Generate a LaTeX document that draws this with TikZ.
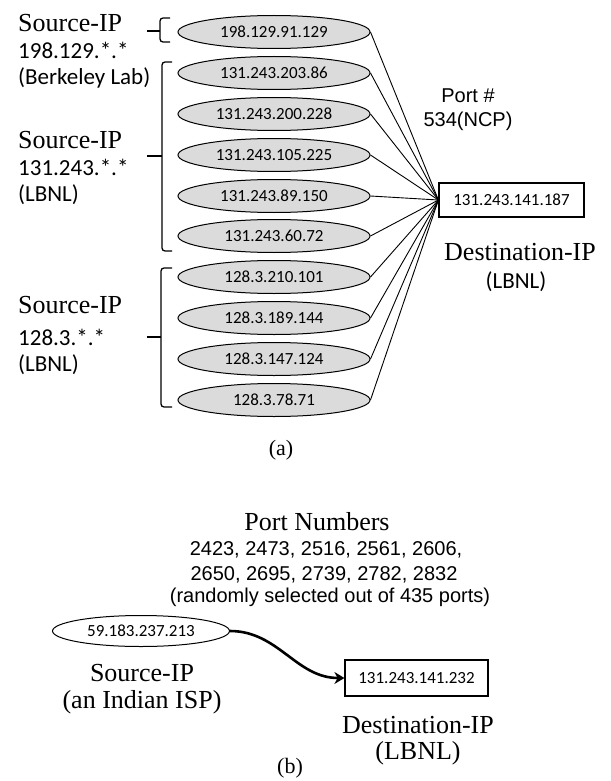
\documentclass[tikz,border=0pt]{standalone}
\usepackage{fontspec}
\setmainfont{Liberation Serif}
\newfontfamily\calfont{Carlito}
\newfontfamily\arialfont{Liberation Sans}
\usetikzlibrary{shapes.geometric,arrows.meta}
\begin{document}
\begin{tikzpicture}[x=1pt,y=-1pt,
 ipell/.style={ellipse,draw,line width=1pt,fill=gray!28,minimum width=192pt,minimum height=33pt,inner sep=0pt,font=\calfont\fontsize{17}{20}\selectfont},
 ipbox/.style={rectangle,draw,line width=1.2pt,minimum width=145pt,minimum height=34pt,inner sep=0pt,font=\calfont\fontsize{17}{20}\selectfont},
 serifl/.style={inner sep=0pt,font=\fontsize{26}{30}\selectfont},
 calil/.style={inner sep=0pt,font=\calfont\fontsize{23}{27}\selectfont},
 ariall/.style={inner sep=0pt,font=\arialfont\fontsize{20}{24}\selectfont},
 link/.style={line width=0.9pt},
 bracel/.style={line width=1.3pt,rounded corners=3pt}
]
\useasboundingbox (0,0) rectangle (610,781);

% ---- part (a) ----
\node[ipell] (e1) at (274,32) {198.129.91.129};
\node[ipell] (e2) at (274,73) {131.243.203.86};
\node[ipell] (e3) at (274,114) {131.243.200.228};
\node[ipell] (e4) at (274,155) {131.243.105.225};
\node[ipell] (e5) at (274,196) {131.243.89.150};
\node[ipell] (e6) at (274,236) {131.243.60.72};
\node[ipell] (e7) at (274,277) {128.3.210.101};
\node[ipell] (e8) at (274,318) {128.3.189.144};
\node[ipell] (e9) at (274,359) {128.3.147.124};
\node[ipell] (e10) at (274,400) {128.3.78.71};

\node[ipbox] (da) at (511.5,200) {131.243.141.187};
\foreach \i in {1,...,10} \draw[link] (e\i.east) -- (da.west);

\node[ariall] (port1) at (468,96) {Port \#};
\node[ariall] (port2) at (468,121) {534(NCP)};
\node[serifl] (dstA) at (520,252) {Destination-IP};
\node[calil] (dstAl) at (516,282) {(LBNL)};

% left labels
\node[serifl,anchor=west] (s1a) at (18,23) {Source-IP};
\node[calil,anchor=west] (s1b) at (18,50) {198.129.*.*};
\node[calil,anchor=west] (s1c) at (18,78) {(Berkeley Lab)};
\node[serifl,anchor=west] (s2a) at (18,140) {Source-IP};
\node[calil,anchor=west] (s2b) at (18,167) {131.243.*.*};
\node[calil,anchor=west] (s2c) at (18,195) {(LBNL)};
\node[serifl,anchor=west] (s3a) at (18,305) {Source-IP};
\node[calil,anchor=west] (s3b) at (18,337) {128.3.*.*};
\node[calil,anchor=west] (s3c) at (18,365) {(LBNL)};

% braces
\draw[bracel] (170,18) -- (160,18) -- (160,42) -- (170,42);
\draw[line width=1.3pt] (160,31) -- (147,31);
\draw[bracel] (172,62) -- (162,62) -- (162,251) -- (172,251);
\draw[line width=1.3pt] (162,156) -- (147,156);
\draw[bracel] (172,268) -- (161,268) -- (161,407) -- (172,407);
\draw[line width=1.3pt] (161,337) -- (147,337);

\node[serifl,font=\fontsize{22}{26}\selectfont] (capa) at (281,450) {(a)};

% ---- part (b) ----
\node[serifl] (pn) at (317,522) {Port Numbers};
\node[ariall] (pl1) at (326,550) {2423, 2473, 2516, 2561, 2606,};
\node[ariall] (pl2) at (324,575) {2650, 2695, 2739, 2782, 2832};
\node[ariall] (pl3) at (330,597) {(randomly selected out of 435 ports)};

\node[ellipse,draw,line width=1pt,minimum width=177pt,minimum height=31pt,inner sep=0pt,font=\calfont\fontsize{17}{20}\selectfont] (sb) at (141,631) {59.183.237.213};
\node[ipbox,minimum width=143pt,minimum height=36pt] (db) at (416.5,678) {131.243.141.232};
\draw[line width=2.6pt,-{Stealth[length=10pt,width=12pt]}] (sb.east) to[out=0,in=180] (db.west);

\node[serifl] (sbl1) at (142,673) {Source-IP};
\node[serifl] (sbl2) at (142,702) {(an Indian ISP)};
\node[serifl] (dbl1) at (418,725) {Destination-IP};
\node[serifl] (dbl2) at (418,753) {(LBNL)};

\node[serifl,font=\fontsize{22}{26}\selectfont] (capb) at (290,768) {(b)};
\end{tikzpicture}
\end{document}
